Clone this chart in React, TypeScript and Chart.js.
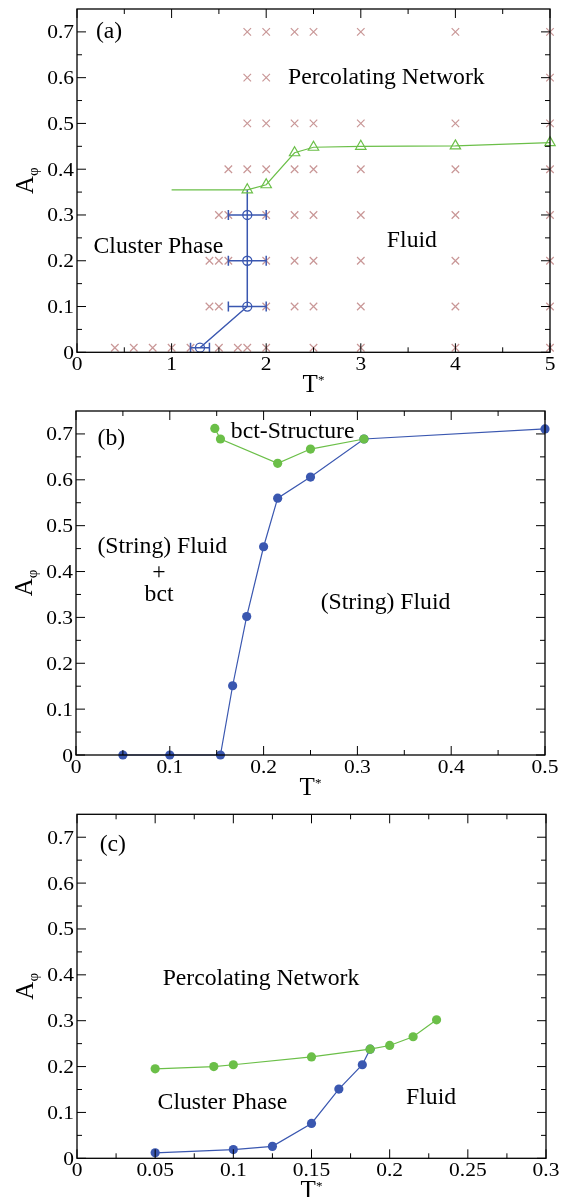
import React, { useEffect, useRef } from 'react';
import { Chart, registerables } from 'chart.js';

Chart.register(...registerables);

const SERIF = '"Liberation Serif", "Times New Roman", serif';
const GREEN = '#6bbf48';
const BLUE = '#3a57b0';
const ROSE = '#c99797';

// ---------- panel (a): simulated state points and phase boundaries ----------
const stateRows = [
  { a: 0.7, t: [1.8, 2.0, 2.3, 2.5, 3, 4, 5] },
  { a: 0.6, t: [1.8, 2.0, 5] },
  { a: 0.5, t: [1.8, 2.0, 2.3, 2.5, 3, 4, 5] },
  { a: 0.4, t: [1.6, 1.8, 2.0, 2.3, 2.5, 3, 4, 5] },
  { a: 0.3, t: [1.5, 1.6, 2.0, 2.3, 2.5, 3, 4, 5] },
  { a: 0.2, t: [1.4, 1.5, 1.6, 2.0, 2.3, 2.5, 3, 4, 5] },
  { a: 0.1, t: [1.4, 1.5, 2.0, 2.3, 2.5, 3, 4, 5] },
  { a: 0.01, t: [0.4, 0.6, 0.8, 1.0, 1.2, 1.5, 1.7, 1.8, 2.0, 2.5, 3, 4, 5] },
];
const networkT_a = [1.0, 1.8, 2.0, 2.3, 2.5, 3, 4, 5];
const networkA_a = [0.355, 0.355, 0.366, 0.436, 0.448, 0.45, 0.451, 0.458];
const clusterT_a = [1.3, 1.8, 1.8, 1.8, 1.8];
const clusterA_a = [0.01, 0.1, 0.2, 0.3, 0.355];
const clusterErr_a = [0.1, 0.2, 0.2, 0.2, 0];
const xTicks_a = [0, 1, 2, 3, 4, 5];
const xTickLabels_a = ['0', '1', '2', '3', '4', '5'];

// ---------- panel (b) ----------
const bctT_b = [0.148, 0.154, 0.215, 0.25, 0.307];
const bctA_b = [0.712, 0.689, 0.636, 0.667, 0.689];
const fluidT_b = [0.05, 0.1, 0.154, 0.167, 0.182, 0.2, 0.215, 0.25, 0.307, 0.5];
const fluidA_b = [0, 0, 0, 0.151, 0.302, 0.454, 0.56, 0.606, 0.689, 0.711];
const xTicks_b = [0, 0.1, 0.2, 0.3, 0.4, 0.5];
const xTickLabels_b = ['0', '0.1', '0.2', '0.3', '0.4', '0.5'];

// ---------- panel (c) ----------
const networkT_c = [0.05, 0.0875, 0.1, 0.15, 0.1875, 0.2, 0.215, 0.23];
const networkA_c = [0.195, 0.2, 0.204, 0.221, 0.238, 0.246, 0.265, 0.302];
const clusterT_c = [0.05, 0.1, 0.125, 0.15, 0.1675, 0.1825, 0.1875];
const clusterA_c = [0.012, 0.019, 0.026, 0.076, 0.151, 0.204, 0.238];
const xTicks_c = [0, 0.05, 0.1, 0.15, 0.2, 0.25, 0.3];
const xTickLabels_c = ['0', '0.05', '0.1', '0.15', '0.2', '0.25', '0.3'];

// shared y axis
const yTicks = [0, 0.1, 0.2, 0.3, 0.4, 0.5, 0.6, 0.7];
const yTickLabels = ['0', '0.1', '0.2', '0.3', '0.4', '0.5', '0.6', '0.7'];
const Y_MAX = 0.75;

type Note = { text: string; x: number; y: number; align?: CanvasTextAlign };

const pts = (xs: number[], ys: number[]) => xs.map((x, i) => ({ x, y: ys[i] }));

const TICK_FONT = 19;
const TICK_STRETCH = 1.13;
const NOTE_FONT = 23.7;
const TITLE_FONT = 25;
const MAJOR = 9;
const MINOR = 5;

function midpoints(v: number[]) {
  const out: number[] = [];
  for (let i = 0; i < v.length - 1; i++) out.push((v[i] + v[i + 1]) / 2);
  return out;
}

// text drawn slightly wider than the face's natural width
function wideText(ctx: CanvasRenderingContext2D, text: string, x: number, y: number, sx: number) {
  ctx.save();
  ctx.translate(x, y);
  ctx.scale(sx, 1);
  ctx.fillText(text, 0, 0);
  ctx.restore();
}

function framePlugin(spec: any) {
  return {
    id: 'phaseFrame',
    afterDatasetsDraw(chart: any) {
      const ctx = chart.ctx;
      const xs = chart.scales.x;
      const ys = chart.scales.y;
      chart.data.datasets.forEach((ds: any) => {
        if (!ds.xErr) return;
        ctx.save();
        ctx.strokeStyle = ds.borderColor;
        ctx.lineWidth = 1.5;
        ds.data.forEach((p: any, i: number) => {
          const e = ds.xErr[i];
          if (!e) return;
          const x0 = xs.getPixelForValue(p.x - e);
          const x1 = xs.getPixelForValue(p.x + e);
          const y = ys.getPixelForValue(p.y);
          ctx.beginPath();
          ctx.moveTo(x0, y);
          ctx.lineTo(x1, y);
          ctx.moveTo(x0, y - 5);
          ctx.lineTo(x0, y + 5);
          ctx.moveTo(x1, y - 5);
          ctx.lineTo(x1, y + 5);
          ctx.stroke();
        });
        ctx.restore();
      });
    },
    afterDraw(chart: any) {
      const ctx = chart.ctx;
      const xs = chart.scales.x;
      const ys = chart.scales.y;
      const { left, right, top, bottom } = chart.chartArea;
      ctx.save();
      ctx.strokeStyle = '#000';
      ctx.fillStyle = '#000';
      ctx.lineWidth = 1.3;
      ctx.strokeRect(left, top, right - left, bottom - top);

      ctx.lineWidth = 1;
      ctx.beginPath();
      const xMinor = midpoints(spec.xTicks);
      const yMinor = midpoints(yTicks);
      spec.xTicks.forEach((v: number) => {
        const p = xs.getPixelForValue(v);
        ctx.moveTo(p, bottom); ctx.lineTo(p, bottom - MAJOR);
        ctx.moveTo(p, top); ctx.lineTo(p, top + MAJOR);
      });
      xMinor.forEach((v: number) => {
        const p = xs.getPixelForValue(v);
        ctx.moveTo(p, bottom); ctx.lineTo(p, bottom - MINOR);
        ctx.moveTo(p, top); ctx.lineTo(p, top + MINOR);
      });
      yTicks.forEach((v: number) => {
        const p = ys.getPixelForValue(v);
        ctx.moveTo(left, p); ctx.lineTo(left + MAJOR, p);
        ctx.moveTo(right, p); ctx.lineTo(right - MAJOR, p);
      });
      yMinor.forEach((v: number) => {
        const p = ys.getPixelForValue(v);
        ctx.moveTo(left, p); ctx.lineTo(left + MINOR, p);
        ctx.moveTo(right, p); ctx.lineTo(right - MINOR, p);
      });
      ctx.stroke();

      // tick labels
      ctx.font = `${TICK_FONT}px ${SERIF}`;
      ctx.textBaseline = 'alphabetic';
      ctx.textAlign = 'center';
      spec.xTicks.forEach((v: number, i: number) => {
        wideText(ctx, spec.xTickLabels[i], xs.getPixelForValue(v), bottom + 18, TICK_STRETCH);
      });
      ctx.textAlign = 'right';
      yTicks.forEach((v: number, i: number) => {
        wideText(ctx, yTickLabels[i], left - 3, ys.getPixelForValue(v) + 6.5, TICK_STRETCH);
      });

      // x title: T*
      ctx.textAlign = 'left';
      ctx.font = `${TITLE_FONT}px ${SERIF}`;
      const wT = ctx.measureText('T').width;
      ctx.font = `13px ${SERIF}`;
      const wS = ctx.measureText('*').width;
      const cx = (left + right) / 2;
      const tx = cx - (wT + wS) / 2;
      ctx.font = `${TITLE_FONT}px ${SERIF}`;
      ctx.fillText('T', tx, bottom + 40);
      ctx.font = `13px ${SERIF}`;
      ctx.fillText('*', tx + wT, bottom + 32);

      // y title: A with subscript phi
      ctx.save();
      ctx.translate(left - 44, (top + bottom) / 2);
      ctx.rotate(-Math.PI / 2);
      ctx.font = `${TITLE_FONT}px ${SERIF}`;
      const wA = ctx.measureText('A').width;
      ctx.font = `15px ${SERIF}`;
      const wP = ctx.measureText('φ').width;
      const sx = -(wA + wP) / 2;
      ctx.font = `${TITLE_FONT}px ${SERIF}`;
      ctx.fillText('A', sx, 0);
      ctx.font = `15px ${SERIF}`;
      ctx.fillText('φ', sx + wA, 5);
      ctx.restore();

      // region labels
      ctx.font = `${NOTE_FONT}px ${SERIF}`;
      ctx.textBaseline = 'middle';
      spec.notes.forEach((n: Note) => {
        ctx.textAlign = n.align || 'center';
        ctx.fillText(n.text, xs.getPixelForValue(n.x), ys.getPixelForValue(n.y));
      });
      ctx.restore();
    },
  };
}

const markerLine = (data: any[], color: string, extra: any) => ({
  data,
  showLine: true,
  borderColor: color,
  borderWidth: 1.2,
  pointBorderColor: color,
  clip: false,
  ...extra,
});

const panels = [
  {
    key: 'a',
    top: 0,
    height: 400,
    area: { left: 77, right: 550, top: 9, bottom: 352.3 },
    xMax: 5,
    xTicks: xTicks_a,
    xTickLabels: xTickLabels_a,
    notes: [
      { text: '(a)', x: 0.2, y: 0.7, align: 'left' },
      { text: 'Percolating Network', x: 3.27, y: 0.6 },
      { text: 'Cluster Phase', x: 0.86, y: 0.23 },
      { text: 'Fluid', x: 3.54, y: 0.243 },
    ] as Note[],
    datasets: [
      markerLine(pts(networkT_a, networkA_a), GREEN, {
        pointStyle: 'triangle',
        pointRadius: networkT_a.map((_, i) => (i === 0 ? 0 : 6)),
        pointBackgroundColor: 'rgba(0,0,0,0)',
        pointBorderWidth: 1.2,
      }),
      markerLine(pts(clusterT_a, clusterA_a), BLUE, {
        borderWidth: 1.5,
        pointStyle: 'circle',
        pointRadius: clusterT_a.map((_, i) => (i === clusterT_a.length - 1 ? 0 : 4.5)),
        pointBackgroundColor: 'rgba(0,0,0,0)',
        pointBorderWidth: 1.3,
        xErr: clusterErr_a,
      }),
      {
        data: stateRows.flatMap((r) => r.t.map((t) => ({ x: t, y: r.a }))),
        showLine: false,
        pointStyle: 'crossRot',
        pointRadius: 5.3,
        pointBorderColor: ROSE,
        pointBorderWidth: 1.2,
        clip: false,
      },
    ],
  },
  {
    key: 'b',
    top: 400,
    height: 400,
    area: { left: 76, right: 545, top: 11, bottom: 355 },
    xMax: 0.5,
    xTicks: xTicks_b,
    xTickLabels: xTickLabels_b,
    notes: [
      { text: '(b)', x: 0.023, y: 0.689, align: 'left' },
      { text: 'bct-Structure', x: 0.231, y: 0.704 },
      { text: '(String) Fluid', x: 0.092, y: 0.454 },
      { text: '+', x: 0.0885, y: 0.397 },
      { text: 'bct', x: 0.0885, y: 0.349 },
      { text: '(String) Fluid', x: 0.33, y: 0.331 },
    ] as Note[],
    datasets: [
      markerLine(pts(bctT_b, bctA_b), GREEN, {
        pointStyle: 'circle',
        pointRadius: 4.6,
        pointBackgroundColor: GREEN,
        pointBorderWidth: 0,
      }),
      markerLine(pts(fluidT_b, fluidA_b), BLUE, {
        pointStyle: 'circle',
        pointRadius: 4.6,
        pointBackgroundColor: BLUE,
        pointBorderWidth: 0,
      }),
    ],
  },
  {
    key: 'c',
    top: 800,
    height: 397,
    area: { left: 77, right: 546, top: 14.3, bottom: 358.3 },
    xMax: 0.3,
    xTicks: xTicks_c,
    xTickLabels: xTickLabels_c,
    notes: [
      { text: '(c)', x: 0.0145, y: 0.683, align: 'left' },
      { text: 'Percolating Network', x: 0.1177, y: 0.391 },
      { text: 'Cluster Phase', x: 0.093, y: 0.1206 },
      { text: 'Fluid', x: 0.2265, y: 0.1315 },
    ] as Note[],
    datasets: [
      markerLine(pts(networkT_c, networkA_c), GREEN, {
        pointStyle: 'circle',
        pointRadius: 4.6,
        pointBackgroundColor: GREEN,
        pointBorderWidth: 0,
      }),
      markerLine(pts(clusterT_c, clusterA_c), BLUE, {
        pointStyle: 'circle',
        pointRadius: 4.6,
        pointBackgroundColor: BLUE,
        pointBorderWidth: 0,
      }),
    ],
  },
];

function Panel({ spec }: { spec: any }) {
  const ref = useRef<HTMLCanvasElement>(null);
  useEffect(() => {
    if (!ref.current) return;
    const { area } = spec;
    const chart = new Chart(ref.current, {
      type: 'scatter',
      data: { datasets: spec.datasets },
      options: {
        responsive: false,
        devicePixelRatio: 1,
        animation: false,
        events: [],
        layout: {
          padding: {
            left: area.left,
            right: 563 - area.right,
            top: area.top,
            bottom: spec.height - area.bottom,
          },
        },
        scales: {
          x: { type: 'linear', display: false, min: 0, max: spec.xMax },
          y: { type: 'linear', display: false, min: 0, max: Y_MAX },
        },
        plugins: { legend: { display: false }, tooltip: { enabled: false } },
        elements: { line: { tension: 0 } },
      },
      plugins: [framePlugin(spec)],
    } as any);
    return () => chart.destroy();
  }, [spec]);
  return (
    <canvas
      ref={ref}
      width={563}
      height={spec.height}
      style={{ position: 'absolute', left: 0, top: spec.top, width: 563, height: spec.height }}
    />
  );
}

export default function App() {
  return (
    <div style={{ position: 'absolute', left: 0, top: 0, width: 563, height: 1197, background: '#fff' }}>
      {panels.map((p) => (
        <Panel key={p.key} spec={p} />
      ))}
    </div>
  );
}
